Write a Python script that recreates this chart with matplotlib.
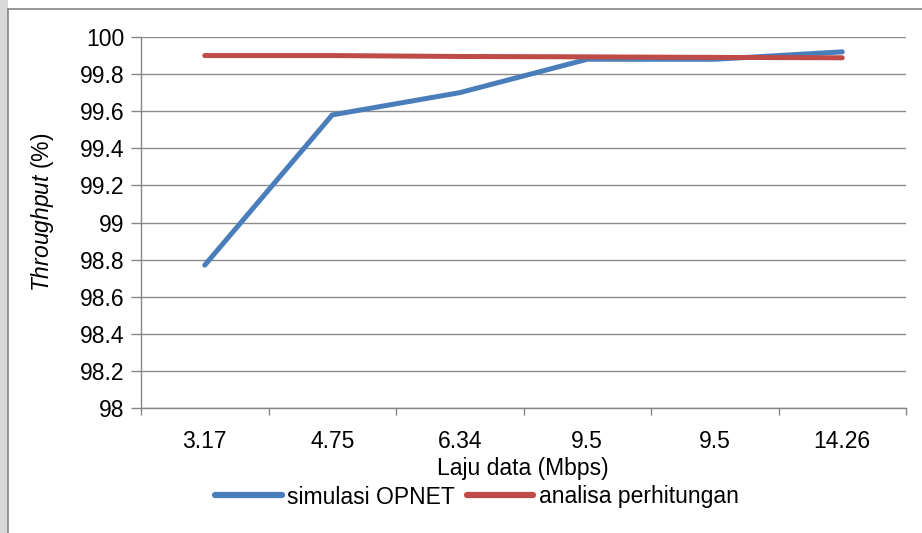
import matplotlib
matplotlib.use("Agg")
import matplotlib.pyplot as plt
from matplotlib.patches import Rectangle
from matplotlib.lines import Line2D

categories = ["3.17", "4.75", "6.34", "9.5", "9.5", "14.26"]
simulasi = [98.77, 99.58, 99.70, 99.88, 99.88, 99.92]
analisa = [99.90, 99.90, 99.895, 99.893, 99.89, 99.888]
yticks = [98, 98.2, 98.4, 98.6, 98.8, 99, 99.2, 99.4, 99.6, 99.8, 100]
ytick_labels = ["98", "98.2", "98.4", "98.6", "98.8", "99", "99.2", "99.4", "99.6", "99.8", "100"]

plt.rcParams['font.family'] = ['Liberation Sans', 'DejaVu Sans']
plt.rcParams['mathtext.fontset'] = 'custom'
plt.rcParams['mathtext.it'] = 'Liberation Sans:italic'
plt.rcParams['mathtext.rm'] = 'Liberation Sans'

FS = 16.5
W, H = 922, 533
fig = plt.figure(figsize=(W / 100, H / 100), dpi=100)
fig.patch.set_facecolor('white')

# outer chart frame
fig.patches.append(Rectangle((0, 0), 8 / W, 1, transform=fig.transFigure,
                             facecolor='#d9d9d9', edgecolor='none', zorder=0))
fig.lines.append(Line2D([8 / W, 8 / W], [0, 1 - 9 / H], transform=fig.transFigure,
                        color='#868686', lw=1.2))
fig.lines.append(Line2D([8 / W, 1], [1 - 9 / H, 1 - 9 / H], transform=fig.transFigure,
                        color='#868686', lw=1.2))

ax = fig.add_axes([141 / W, (H - 408) / H, (906 - 141) / W, (408 - 37) / H])
x = list(range(len(categories)))
l1, = ax.plot(x, simulasi, color='#4A7EBB', lw=3.6, solid_capstyle='round',
              solid_joinstyle='round', label='simulasi OPNET', zorder=3)
l2, = ax.plot(x, analisa, color='#BE4B48', lw=3.6, solid_capstyle='round',
              solid_joinstyle='round', label='analisa perhitungan', zorder=3)

ax.set_xlim(-0.5, len(categories) - 0.5)
ax.set_ylim(98, 100)
ax.set_yticks(yticks)
ax.set_yticklabels(ytick_labels, fontsize=FS)
ax.yaxis.grid(True, color='#8c8c8c', lw=1.0)
ax.set_axisbelow(True)

ax.set_xticks([i - 0.5 for i in range(len(categories) + 1)])
ax.set_xticklabels([])
ax.set_xticks(x, minor=True)
ax.set_xticklabels(categories, minor=True, fontsize=FS)
ax.tick_params(axis='x', which='minor', length=0, pad=16)
ax.tick_params(axis='x', which='major', length=5, color='#868686', width=1)
ax.tick_params(axis='y', length=7, color='#868686', width=1, pad=5)

for s in ['top', 'right']:
    ax.spines[s].set_visible(False)
for s in ['left', 'bottom']:
    ax.spines[s].set_color('#868686')
    ax.spines[s].set_linewidth(1.0)

fig.text(523 / W, 1 - 468 / H, 'Laju data (Mbps)', fontsize=FS, ha='center', va='center')
fig.text(42 / W, 1 - 212 / H, r'$\mathit{Throughput}$ (%)', fontsize=FS,
         ha='center', va='center', rotation=90)

leg = fig.legend(handles=[l1, l2], loc='center', bbox_to_anchor=(477 / W, 1 - 497 / H),
                 ncol=2, frameon=False, fontsize=FS, handlelength=2.9, handletextpad=0.25,
                 columnspacing=0.5, borderaxespad=0, borderpad=0)
for ln in leg.get_lines():
    ln.set_linewidth(4.5)
    ln.set_solid_capstyle('round')

fig.savefig('out.png', dpi=100)
